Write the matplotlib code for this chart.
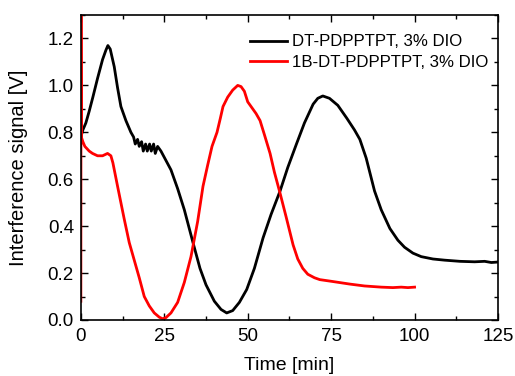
import matplotlib
matplotlib.use("Agg")
import matplotlib.pyplot as plt
from matplotlib.ticker import MultipleLocator

plt.rcParams['font.family'] = ['Liberation Sans', 'DejaVu Sans']

# DT-PDPPTPT, 3% DIO (black)
t_black = [0.0, 0.6, 1.5, 2.5, 3.6, 5.0, 6.5, 7.5, 8.1, 8.8, 10.0, 11.0, 12.0, 13.5, 15.0,
           15.8, 16.3, 17.0, 17.5, 18.2, 18.7, 19.4, 19.9, 20.6, 21.1, 21.8, 22.3, 23.0,
           24.0, 25.5, 27.0, 29.0, 31.0, 33.6, 35.7, 37.5, 40.0, 42.0, 43.7, 45.5, 47.5,
           49.7, 52.0, 54.6, 57.0, 59.7, 62.0, 64.6, 67.0, 69.6, 71.0, 72.5, 74.5, 77.0,
           79.7, 82.0, 83.6, 85.5, 88.0, 90.0, 92.6, 95.0, 97.0, 99.5, 102.0, 105.5, 109.0,
           113.6, 118.0, 121.0, 123.0, 125.0]
v_black = [0.78, 0.81, 0.84, 0.89, 0.95, 1.03, 1.11, 1.15, 1.17, 1.155, 1.08, 0.99, 0.91, 0.85, 0.80,
           0.78, 0.75, 0.77, 0.74, 0.76, 0.72, 0.75, 0.72, 0.75, 0.72, 0.75, 0.71, 0.74,
           0.72, 0.68, 0.64, 0.56, 0.47, 0.33, 0.22, 0.15, 0.08, 0.045, 0.03, 0.04, 0.075,
           0.13, 0.22, 0.35, 0.45, 0.55, 0.65, 0.75, 0.84, 0.92, 0.945, 0.955, 0.945, 0.915,
           0.86, 0.81, 0.77, 0.69, 0.55, 0.47, 0.39, 0.34, 0.31, 0.285, 0.27, 0.26, 0.255,
           0.25, 0.248, 0.25, 0.245, 0.247]

# 1B-DT-PDPPTPT, 3% DIO (red)
t_red = [0.0, 0.05, 0.15, 0.6, 1.2, 2.5, 3.5, 5.0, 6.5, 8.0, 9.0, 9.6, 10.3, 11.0, 12.0,
         13.0, 14.5, 16.3, 17.5, 19.0, 20.5, 22.0, 23.5, 24.5, 25.5, 27.0, 29.0, 31.0,
         33.0, 35.0, 36.6, 38.0, 39.3, 40.8, 41.8, 42.6, 44.0, 45.5, 47.0, 48.0, 49.0,
         50.0, 51.0, 52.5, 53.7, 55.0, 56.7, 58.0, 59.7, 61.5, 63.6, 65.0, 66.5, 68.0,
         70.0, 71.6, 75.0, 80.6, 85.0, 90.0, 93.5, 96.0, 98.0, 100.0]
v_red = [0.08, 1.40, 0.78, 0.76, 0.74, 0.72, 0.71, 0.70, 0.70, 0.71, 0.70, 0.67, 0.62, 0.57, 0.50,
         0.43, 0.33, 0.24, 0.18, 0.10, 0.06, 0.03, 0.012, 0.005, 0.01, 0.03, 0.075, 0.16,
         0.27, 0.42, 0.57, 0.66, 0.74, 0.80, 0.86, 0.91, 0.95, 0.98, 1.00, 0.995, 0.975,
         0.93, 0.91, 0.88, 0.85, 0.79, 0.71, 0.63, 0.54, 0.44, 0.32, 0.26, 0.22, 0.195,
         0.18, 0.172, 0.165, 0.153, 0.145, 0.14, 0.138, 0.14, 0.138, 0.14]

label_black = "DT-PDPPTPT, 3% DIO"
label_red = "1B-DT-PDPPTPT, 3% DIO"

fig = plt.figure(figsize=(5.15, 3.76), dpi=100)
ax = fig.add_axes([0.157, 0.149, 0.810, 0.811])

ax.plot(t_black, v_black, color='black', lw=2.0, label=label_black)
ax.plot(t_red, v_red, color='#ff0000', lw=2.0, label=label_red)

ax.set_xlim(0, 125)
ax.set_ylim(0, 1.3)
ax.xaxis.set_major_locator(MultipleLocator(25))
ax.xaxis.set_minor_locator(MultipleLocator(12.5))
ax.yaxis.set_major_locator(MultipleLocator(0.2))
ax.yaxis.set_minor_locator(MultipleLocator(0.1))
ax.yaxis.set_major_formatter(matplotlib.ticker.FormatStrFormatter('%.1f'))

ax.tick_params(which='both', direction='in', top=True, right=True, labelsize=13.5, width=1)
ax.tick_params(which='major', length=5)
ax.tick_params(which='minor', length=3)
ax.tick_params(axis='x', pad=6)
ax.tick_params(axis='y', pad=5)
for s in ax.spines.values():
    s.set_linewidth(1.2)

ax.set_xlabel("Time [min]", fontsize=14, labelpad=8.5)
ax.set_ylabel("Interference signal [V]", fontsize=14.5, labelpad=14)

leg = ax.legend(loc='upper right', frameon=False, fontsize=12.1, handlelength=2.2,
                handletextpad=0.3, borderaxespad=0.3, labelspacing=0.35,
                bbox_to_anchor=(1.005, 0.975))

fig.savefig("out.png", dpi=100)
